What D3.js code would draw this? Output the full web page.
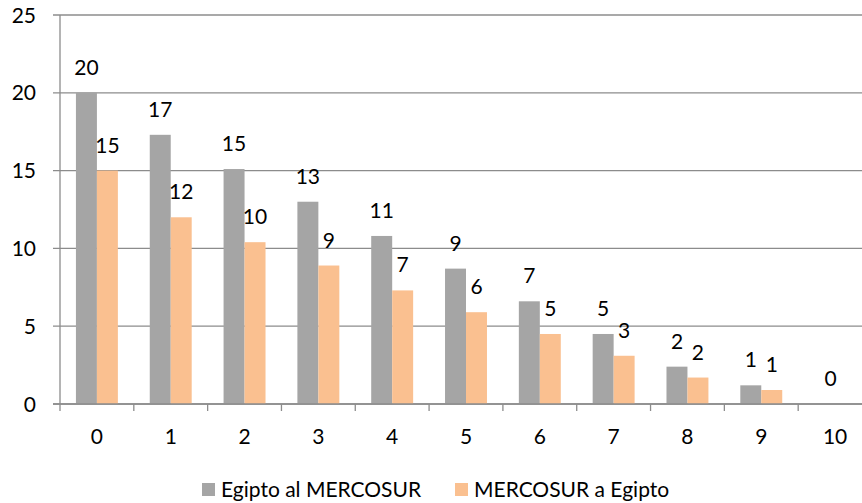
<!DOCTYPE html>
<html>
<head>
<meta charset="utf-8">
<style>
  body { margin: 0; background: #fff; }
  svg { display: block; font-family: "Lato", "Open Sans", sans-serif; }
  .grid line { stroke: #8c8c8c; stroke-width: 1.3px; }
  .lbl { font-size: 21px; fill: #000; }
</style>
</head>
<body>
<svg width="862" height="503"></svg>
<script src="https://cdn.jsdelivr.net/npm/d3@7"></script>
<script>
var categories = ["0","1","2","3","4","5","6","7","8","9","10"];
var egiptoMercosur = [20, 17.3, 15.1, 13, 10.8, 8.7, 6.6, 4.5, 2.4, 1.2, 0];
var mercosurEgipto = [15, 12, 10.4, 8.9, 7.3, 5.9, 4.5, 3.1, 1.7, 0.9, null];
var seriesNames = ["Egipto al MERCOSUR", "MERCOSUR a Egipto"];
var colors = ["#a5a5a5", "#fac090"];
var yTicks = [0, 5, 10, 15, 20, 25];

var svg = d3.select("svg");
var plotL = 60, plotR = 872, plotT = 15, plotB = 404;

var x = d3.scaleBand().domain(categories).range([plotL, plotR]);
var x1 = d3.scaleBand().domain([0, 1]).range([0, x.bandwidth()]).paddingOuter(0.76).paddingInner(0);
var y = d3.scaleLinear().domain([0, 25]).range([plotB, plotT]);

// gridlines
var grid = svg.append("g").attr("class", "grid");
grid.selectAll("line").data(yTicks).enter().append("line")
  .attr("x1", plotL - 7).attr("x2", 862)
  .attr("y1", function(d) { return y(d); })
  .attr("y2", function(d) { return y(d); });
grid.append("line").attr("x1", plotL).attr("x2", plotL).attr("y1", plotT).attr("y2", plotB);
grid.selectAll(".xt").data(categories.concat(["end"])).enter().append("line")
  .attr("class", "xt")
  .attr("x1", function(d, i) { return plotL + i * x.step(); })
  .attr("x2", function(d, i) { return plotL + i * x.step(); })
  .attr("y1", plotB).attr("y2", plotB + 7);

// y labels
svg.selectAll(".ylab").data(yTicks).enter().append("text")
  .attr("class", "lbl")
  .attr("x", 36).attr("y", function(d) { return y(d); })
  .attr("dy", "0.36em")
  .attr("text-anchor", "end")
  .text(function(d) { return d; });

// x labels
svg.selectAll(".xlab").data(categories).enter().append("text")
  .attr("class", "lbl")
  .attr("x", function(d) { return x(d) + x.bandwidth() / 2; })
  .attr("y", 444)
  .attr("text-anchor", "middle")
  .text(function(d) { return d; });

var series = [egiptoMercosur, mercosurEgipto];
series.forEach(function(vals, s) {
  var pts = vals.map(function(v, i) { return { c: categories[i], v: v }; })
    .filter(function(d) { return d.v !== null; });
  svg.selectAll(".bar" + s).data(pts).enter().append("rect")
    .attr("x", function(d) { return x(d.c) + x1(s); })
    .attr("width", x1.bandwidth())
    .attr("y", function(d) { return y(d.v); })
    .attr("height", function(d) { return plotB - y(d.v); })
    .attr("fill", colors[s]);
  svg.selectAll(".val" + s).data(pts).enter().append("text")
    .attr("class", "lbl")
    .attr("x", function(d) { return x(d.c) + x1(s) + x1.bandwidth() / 2 + (d.v === 0 ? 6 : 0); })
    .attr("y", function(d) { return y(d.v) - 18; })
    .attr("text-anchor", "middle")
    .text(function(d) { return Math.round(d.v); });
});

// axis line at zero on top of bars
svg.append("line").attr("x1", plotL - 7).attr("x2", 862)
  .attr("y1", plotB).attr("y2", plotB)
  .attr("stroke", "#8c8c8c").attr("stroke-width", 1.3);

// legend
var legX = [202, 455];
seriesNames.forEach(function(n, i) {
  svg.append("rect").attr("x", legX[i]).attr("y", 483).attr("width", 13).attr("height", 13).attr("fill", colors[i]);
  svg.append("text").attr("class", "lbl").attr("x", legX[i] + 19).attr("y", 497).text(n);
});
</script>
</body>
</html>
